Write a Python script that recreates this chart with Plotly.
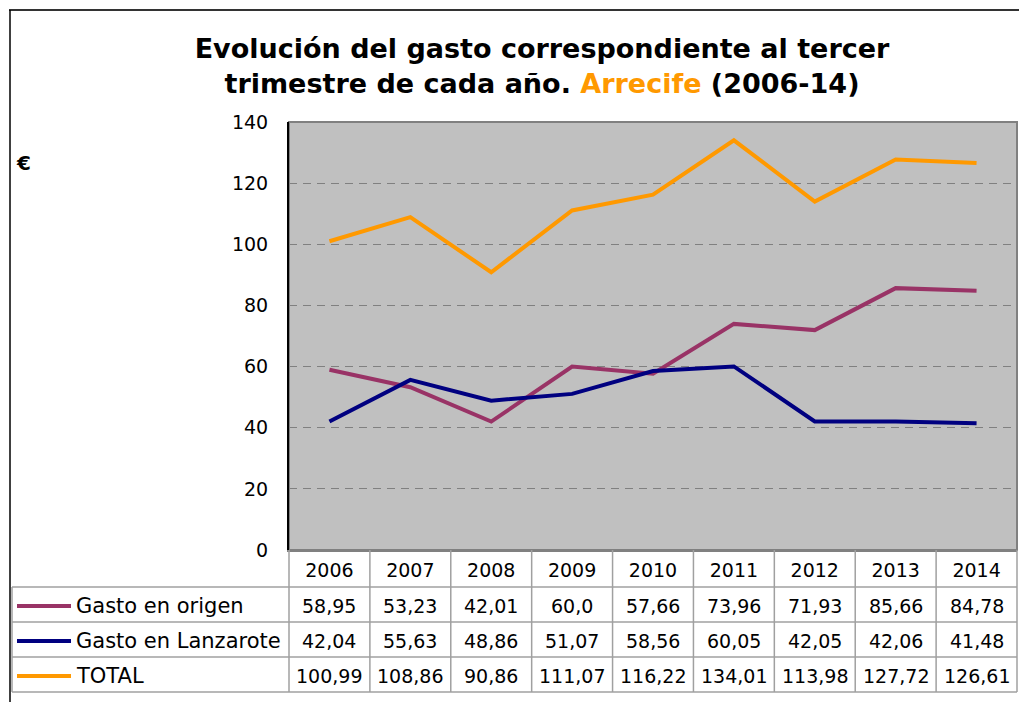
import plotly.graph_objects as go

# Gasto turístico tercer trimestre, Arrecife (2006-14)
years = ["2006", "2007", "2008", "2009", "2010", "2011", "2012", "2013", "2014"]
series_names = ["Gasto en origen", "Gasto en Lanzarote", "TOTAL"]
gasto_origen = [58.95, 53.23, 42.01, 60.0, 57.66, 73.96, 71.93, 85.66, 84.78]
gasto_lanzarote = [42.04, 55.63, 48.86, 51.07, 58.56, 60.05, 42.05, 42.06, 41.48]
total = [100.99, 108.86, 90.86, 111.07, 116.22, 134.01, 113.98, 127.72, 126.61]
# the table shows 60,0 for 2009, so values are printed as in the source
origen_labels = ["58,95", "53,23", "42,01", "60,0", "57,66", "73,96", "71,93", "85,66", "84,78"]
lanzarote_labels = ["42,04", "55,63", "48,86", "51,07", "58,56", "60,05", "42,05", "42,06", "41,48"]
total_labels = ["100,99", "108,86", "90,86", "111,07", "116,22", "134,01", "113,98", "127,72", "126,61"]
colors = ["#993366", "#000080", "#FF9900"]

W, H = 1019, 702
L, R, T, B = 289, 1017, 122, 550  # plot area in pixels


def px(x):
    return (x - L) / (R - L)


def py(y):
    return (B - y) / (B - T)


fig = go.Figure()
for name, vals, col in zip(series_names, [gasto_origen, gasto_lanzarote, total], colors):
    fig.add_trace(go.Scatter(x=years, y=vals, name=name, mode="lines",
                             line=dict(color=col, width=4)))

shapes = []
annotations = []
grid_col = "#a0a0a0"

# table rows below the plot (header row = x tick labels)
row_edges = [550, 587, 622, 657, 692]
for y in row_edges[1:]:
    shapes.append(dict(type="line", xref="paper", yref="paper", x0=px(12), x1=1, y0=py(y), y1=py(y),
                       line=dict(color=grid_col, width=1.5)))
n = len(years)
for i in range(n + 1):
    shapes.append(dict(type="line", xref="paper", yref="paper", x0=i / n, x1=i / n,
                       y0=py(550), y1=py(692), line=dict(color=grid_col, width=1.5)))
shapes.append(dict(type="line", xref="paper", yref="paper", x0=px(12), x1=px(12),
                   y0=py(587), y1=py(692), line=dict(color=grid_col, width=1.5)))

rows = [origen_labels, lanzarote_labels, total_labels]
for r, (name, labels, col) in enumerate(zip(series_names, rows, colors)):
    yc = py((row_edges[r + 1] + row_edges[r + 2]) / 2 + 1.5)
    shapes.append(dict(type="line", xref="paper", yref="paper", x0=px(17), x1=px(71), y0=yc, y1=yc,
                       line=dict(color=col, width=4)))
    annotations.append(dict(xref="paper", yref="paper", x=px(74), y=yc, text=name, showarrow=False,
                            xanchor="left", yanchor="middle", font=dict(size=21, color="#000000")))
    for i, lab in enumerate(labels):
        annotations.append(dict(xref="x", yref="paper", x=i, y=yc, text=lab, showarrow=False,
                                xanchor="center", yanchor="middle", font=dict(size=19, color="#000000")))

# plot area frame (top / right gray)
shapes.append(dict(type="rect", xref="paper", yref="paper", x0=0, x1=1, y0=0, y1=1,
                   line=dict(color="#808080", width=2), layer="below"))
# outer chart frame
shapes.append(dict(type="line", xref="paper", yref="paper", x0=px(9), x1=px(W), y0=py(10), y1=py(10),
                   line=dict(color="#333333", width=2)))
shapes.append(dict(type="line", xref="paper", yref="paper", x0=px(10), x1=px(10), y0=py(10), y1=py(H),
                   line=dict(color="#000000", width=1.5)))

annotations.append(dict(xref="paper", yref="paper", x=px(14), y=py(163), text="<b>€</b>", showarrow=False,
                        xanchor="left", yanchor="middle", font=dict(size=20, color="#000000")))

fig.update_layout(
    width=W, height=H,
    margin=dict(l=L, r=W - R, t=T, b=H - B, pad=0),
    paper_bgcolor="white",
    plot_bgcolor="#C0C0C0",
    font=dict(family="DejaVu Sans", color="#000000"),
    showlegend=False,
    title=dict(
        text="<b>Evolución del gasto correspondiente al tercer<br>trimestre de cada año. "
             "<span style='color:#FF9900'>Arrecife</span> (2006-14)</b>",
        x=542 / W, xanchor="center", y=1 - 58 / H, yanchor="middle",
        font=dict(size=27, family="DejaVu Sans", color="#000000"),
    ),
    xaxis=dict(type="category", range=[-0.5, n - 0.5], showgrid=False, zeroline=False,
               showline=True, linecolor="#808080", linewidth=2, ticks="",
               tickfont=dict(size=19), ticklabelstandoff=2),
    yaxis=dict(range=[0, 140], dtick=20, showgrid=True, gridcolor="#808080", gridwidth=1,
               griddash="8px,6px", zeroline=False, showline=True, linecolor="#000000", linewidth=2,
               ticks="", tickfont=dict(size=19), ticklabelstandoff=15),
    shapes=shapes,
    annotations=annotations,
)

fig.write_html("out.html", config={"displayModeBar": False},
               post_script="document.body.style.margin='0';")
